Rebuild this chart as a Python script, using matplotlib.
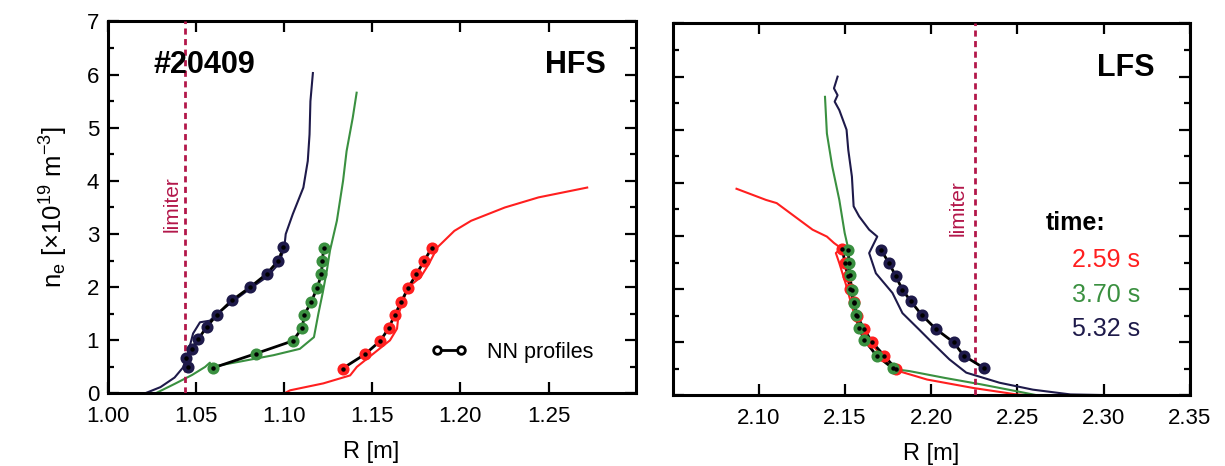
import matplotlib
matplotlib.use("Agg")
import matplotlib.pyplot as plt
from matplotlib.lines import Line2D

plt.rcParams["font.family"] = ["Liberation Sans", "DejaVu Sans"]
plt.rcParams["mathtext.fontset"] = "custom"
plt.rcParams["mathtext.rm"] = "Liberation Sans"
plt.rcParams["mathtext.it"] = "Liberation Sans:italic"

RED = "#ff1f1f"
GREEN = "#3a9040"
NAVY = "#1e1a4a"
LIMITER = "#b3174a"

# ---- HFS (left panel) ----
hfs_navy_r = [1.021, 1.030, 1.038, 1.0428, 1.0455, 1.0485, 1.0524, 1.058, 1.062, 1.0706, 1.0811,
              1.0906, 1.0973, 1.1002, 1.101, 1.105, 1.111, 1.1135, 1.1145, 1.115, 1.1164]
hfs_navy_n = [0.0, 0.12, 0.30, 0.49, 0.75, 1.13, 1.34, 1.37, 1.50, 1.72, 1.98,
              2.20, 2.45, 2.75, 3.0, 3.375, 3.875, 4.375, 4.875, 5.5, 6.03]
hfs_navy_nn_r = [1.0455, 1.0445, 1.0477, 1.0515, 1.0562, 1.0619, 1.0704, 1.0808, 1.0902, 1.0968, 1.0997]
hfs_navy_nn_n = [0.50, 0.66, 0.84, 1.03, 1.25, 1.48, 1.75, 2.0, 2.25, 2.5, 2.75]

hfs_green_r = [1.027, 1.038, 1.048, 1.0553, 1.058, 1.0585, 1.062, 1.075, 1.094, 1.109, 1.117,
               1.1195, 1.122, 1.1243, 1.1261, 1.130, 1.1335, 1.1355, 1.139, 1.1412]
hfs_green_n = [0.0, 0.18, 0.35, 0.50, 0.58, 0.47, 0.52, 0.60, 0.72, 0.84, 1.06,
               1.5, 1.9, 2.31, 2.69, 3.25, 4.0, 4.56, 5.19, 5.66]
hfs_green_nn_r = [1.0597, 1.084, 1.105, 1.1103, 1.1116, 1.1155, 1.1189, 1.1212, 1.1218, 1.1225]
hfs_green_nn_n = [0.48, 0.75, 0.99, 1.23, 1.48, 1.73, 1.99, 2.24, 2.49, 2.74]

hfs_red_r = [1.075, 1.10, 1.1035, 1.1223, 1.1375, 1.1413, 1.1507, 1.1601, 1.1641, 1.165, 1.1689,
             1.1727, 1.1775, 1.1822, 1.187, 1.1966, 1.2061, 1.2252, 1.2443, 1.2719]
hfs_red_n = [0.0, 0.0, 0.06, 0.19, 0.34, 0.50, 0.75, 1.0, 1.22, 1.5, 1.875,
             2.06, 2.19, 2.44, 2.75, 3.06, 3.25, 3.5, 3.69, 3.875]
hfs_red_nn_r = [1.1332, 1.146, 1.1546, 1.1594, 1.1628, 1.1666, 1.1704, 1.175, 1.1794, 1.1838]
hfs_red_nn_n = [0.47, 0.74, 0.99, 1.23, 1.48, 1.73, 1.99, 2.24, 2.49, 2.74]

# ---- LFS (right panel) ----
lfs_red_r = [2.0871, 2.1042, 2.1104, 2.1208, 2.1312, 2.1395, 2.1436, 2.1478, 2.1447, 2.1467, 2.1509,
             2.154, 2.1582, 2.1665, 2.1748, 2.181, 2.1976, 2.2246, 2.2495, 2.26]
lfs_red_n = [3.89, 3.68, 3.62, 3.37, 3.12, 2.99, 2.87, 2.77, 2.68, 2.49, 2.05,
             1.68, 1.24, 0.93, 0.61, 0.46, 0.30, 0.14, 0.02, 0.0]
lfs_red_nn_r = [2.1484, 2.150, 2.1515, 2.153, 2.1552, 2.157, 2.161, 2.1658, 2.1727, 2.1795]
lfs_red_nn_n = [2.75, 2.5, 2.25, 2.0, 1.75, 1.5, 1.25, 1.0, 0.75, 0.5]

lfs_green_r = [2.1384, 2.1395, 2.1426, 2.1467, 2.1498, 2.1519, 2.1528, 2.154, 2.1565, 2.1611,
               2.1683, 2.1776, 2.1872, 2.208, 2.2288, 2.2495, 2.262]
lfs_green_n = [5.62, 4.93, 4.31, 3.68, 3.06, 2.76, 2.27, 1.99, 1.52, 1.05,
               0.75, 0.5, 0.46, 0.33, 0.21, 0.08, 0.0]
lfs_green_nn_r = [2.1519, 2.1523, 2.1528, 2.1539, 2.1552, 2.1565, 2.1582, 2.1611, 2.1683, 2.1776]
lfs_green_nn_n = [2.74, 2.49, 2.27, 1.99, 1.74, 1.52, 1.27, 1.05, 0.75, 0.52]

lfs_navy_r = [2.1457, 2.1436, 2.1457, 2.144, 2.1467, 2.1509, 2.1519, 2.154, 2.155, 2.1582, 2.164,
              2.1687, 2.164, 2.1679, 2.1775, 2.1833, 2.193, 2.2007, 2.2105, 2.2203, 2.2396,
              2.2589, 2.2807, 2.314]
lfs_navy_n = [6.0, 5.78, 5.65, 5.53, 5.37, 5.0, 4.62, 4.12, 3.56, 3.37, 3.12,
              2.99, 2.68, 2.3, 1.93, 1.55, 1.24, 0.99, 0.68, 0.43, 0.24,
              0.11, 0.02, 0.0]
lfs_navy_nn_r = [2.1708, 2.1756, 2.1795, 2.1833, 2.1882, 2.1944, 2.2027, 2.213, 2.2188, 2.2304]
lfs_navy_nn_n = [2.74, 2.49, 2.24, 1.99, 1.77, 1.52, 1.25, 1.0, 0.75, 0.52]

limiter_hfs = 1.044
limiter_lfs = 2.2255

hfs_ticks = [1.00, 1.05, 1.10, 1.15, 1.20, 1.25]
lfs_ticks = [2.10, 2.15, 2.20, 2.25, 2.30, 2.35]
times = ["2.59 s", "3.70 s", "5.32 s"]
time_colors = [RED, GREEN, NAVY]


def draw_nn(ax, r, n, color):
    ax.plot(r, n, color="black", lw=2.0, zorder=4)
    ax.plot(r, n, ls="none", marker="o", ms=7.5, mfc=color, mec=color, mew=1.2, zorder=5)
    ax.plot(r, n, ls="none", marker="o", ms=2.2, color="black", zorder=6)


def style_axes(ax):
    for sp in ax.spines.values():
        sp.set_linewidth(2.2)
    ax.set_ylim(0, 7)
    ax.set_yticks(range(8))
    ax.set_yticks([0.5 + i for i in range(7)], minor=True)
    ax.tick_params(which="both", direction="in", top=True, right=True, width=1.6, labelsize=16)
    ax.tick_params(which="major", length=8)
    ax.tick_params(which="minor", length=4)
    ax.tick_params(axis="y", pad=6)
    ax.tick_params(axis="x", pad=9)
    ax.set_xlabel("R [m]", fontsize=17, labelpad=10)


fig = plt.figure(figsize=(12.25, 4.66), dpi=100)
ax1 = fig.add_axes([0.0878, 0.1556, 0.431, 0.7983])
ax2 = fig.add_axes([0.549, 0.1513, 0.4224, 0.7983])

# left panel
ax1.plot(hfs_red_r, hfs_red_n, color=RED, lw=1.5)
ax1.plot(hfs_green_r, hfs_green_n, color=GREEN, lw=1.5)
ax1.plot(hfs_navy_r, hfs_navy_n, color=NAVY, lw=1.5)
draw_nn(ax1, hfs_red_nn_r, hfs_red_nn_n, RED)
draw_nn(ax1, hfs_green_nn_r, hfs_green_nn_n, GREEN)
draw_nn(ax1, hfs_navy_nn_r, hfs_navy_nn_n, NAVY)
ax1.axvline(limiter_hfs, color=LIMITER, ls=(0, (2.2, 1.6)), lw=2.0, zorder=3)
ax1.text(limiter_hfs - 0.0075, 3.56, "limiter", color=LIMITER, rotation=90,
         ha="center", va="center", fontsize=15)
ax1.set_xlim(1.00, 1.2993)
ax1.set_xticks(hfs_ticks)
ax1.set_xticklabels([f"{t:.2f}" for t in hfs_ticks])
style_axes(ax1)
ax1.set_ylabel("n$_\\mathregular{e}$ [×10$^\\mathregular{19}$ m$^\\mathregular{-3}$]",
               fontsize=18.5, labelpad=12)
ax1.text(1.0258, 6.19, "#20409", fontsize=22, fontweight="bold", ha="left", va="center")
ax1.text(1.2824, 6.19, "HFS", fontsize=22, fontweight="bold", ha="right", va="center")
nn_handle = Line2D([], [], color="black", lw=2.0, marker="o", ms=5.5, mfc="white",
                   mec="black", mew=2.0)
ax1.legend([nn_handle], ["NN profiles"], numpoints=2, loc="center right",
           bbox_to_anchor=(0.94, 0.111), frameon=False, fontsize=15.5,
           handlelength=1.7, handletextpad=0.9, borderpad=0)

# right panel
ax2.plot(lfs_red_r, lfs_red_n, color=RED, lw=1.5)
ax2.plot(lfs_green_r, lfs_green_n, color=GREEN, lw=1.5)
ax2.plot(lfs_navy_r, lfs_navy_n, color=NAVY, lw=1.5)
draw_nn(ax2, lfs_navy_nn_r, lfs_navy_nn_n, NAVY)
draw_nn(ax2, lfs_red_nn_r, lfs_red_nn_n, RED)
draw_nn(ax2, lfs_green_nn_r, lfs_green_nn_n, GREEN)
ax2.axvline(limiter_lfs, color=LIMITER, ls=(0, (2.2, 1.6)), lw=2.0, zorder=3)
ax2.text(limiter_lfs - 0.0102, 3.52, "limiter", color=LIMITER, rotation=90,
         ha="center", va="center", fontsize=15)
ax2.set_xlim(2.05, 2.35)
ax2.set_xticks(lfs_ticks)
ax2.set_xticklabels([f"{t:.2f}" for t in lfs_ticks])
style_axes(ax2)
ax2.set_yticklabels([])
ax2.text(2.3295, 6.16, "LFS", fontsize=22, fontweight="bold", ha="right", va="center")
ax2.text(2.2661, 3.24, "time:", fontsize=18, fontweight="bold", ha="left", va="center")
for i, (lbl, c) in enumerate(zip(times, time_colors)):
    ax2.text(2.3212, 2.555 - 0.655 * i, lbl, color=c, fontsize=18, ha="right", va="center")

fig.savefig("out.png", dpi=100, facecolor="white")
